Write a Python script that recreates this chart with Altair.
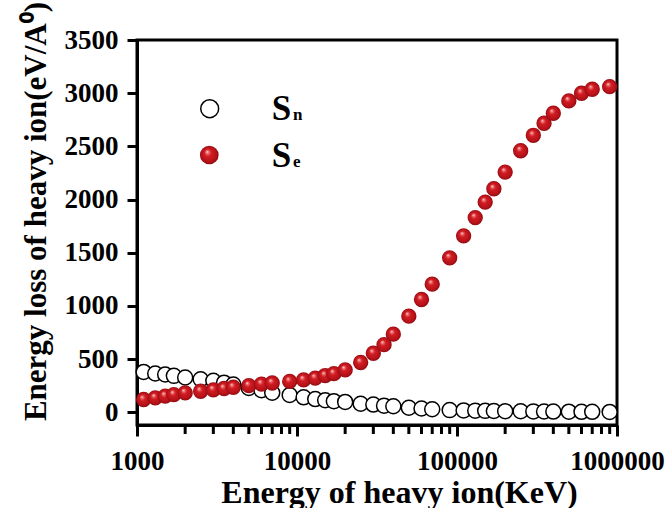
import altair as alt
import pandas as pd

# Ion energy (keV) and stopping powers (eV/Å)
energy_kev = [1100, 1300, 1500, 1700, 2000, 2500, 3000, 3500, 4000, 5000,
              6000, 7000, 9000, 11000, 13000, 15000, 17000, 20000, 25000, 30000,
              35000, 40000, 50000, 60000, 70000, 90000, 110000, 130000, 150000, 170000,
              200000, 250000, 300000, 350000, 400000, 500000, 600000, 700000, 900000]
sn_values = [379, 364, 355, 342, 327, 310, 295, 278, 261, 229,
             207, 183, 162, 140, 124, 113, 104, 97, 80, 72,
             62, 56, 42, 35, 28, 20, 17, 15, 13, 12,
             10, 9, 8, 7, 6, 5, 4, 4, 3]
se_values = [120, 135, 152, 166, 182, 197, 210, 223, 235, 250,
             265, 275, 290, 304, 321, 345, 363, 398, 468, 555,
             635, 734, 903, 1060, 1204, 1452, 1659, 1830, 1976, 2101,
             2258, 2459, 2604, 2717, 2811, 2927, 2999, 3037, 3061]

y_ticks = [0, 500, 1000, 1500, 2000, 2500, 3000, 3500]
x_major = [1000, 10000, 100000, 1000000]
x_minor = [m * 10 ** k for k in (3, 4, 5) for m in range(2, 10)]

legend_main = ["S", "S"]
legend_sub = ["n", "e"]

df = pd.DataFrame({"energy": energy_kev, "sn": sn_values, "se": se_values})
minor_df = pd.DataFrame({"energy": x_minor})
one = pd.DataFrame({"k": [0]})

FONT = "Liberation Serif"

x_scale = alt.Scale(type="log", domain=[1000, 1000000], nice=False)
y_scale = alt.Scale(domain=[-120, 3500], nice=False, zero=False)

y_axis = alt.Axis(
    values=y_ticks, format="d", title="Energy loss of heavy ion(eV/A⁰)",
    tickSize=10, tickWidth=3, domainWidth=3, labelPadding=9,
    labelFontSize=27, titleFontSize=31, titleX=-92, titleY=171,
    titleAngle=270, titleAlign="center", titleBaseline="alphabetic",
    grid=False,
)
x_axis = alt.Axis(
    values=x_major, format="d", title="Energy of heavy ion(KeV)",
    tickSize=11, tickWidth=3, domainWidth=3, labelPadding=33,
    labelBaseline="alphabetic", labelFontSize=27, labelFlush=False,
    labelOverlap=False, titleFontSize=32, titleX=262, titleY=77,
    titleAlign="center", titleBaseline="alphabetic", orient="bottom",
    grid=False,
)

# Shaded sphere fill for the electronic stopping points
sphere = alt.RadialGradient(
    gradient="radial",
    stops=[
        alt.GradientStop(color="#ffffff", offset=0),
        alt.GradientStop(color="#f07a7a", offset=0.14),
        alt.GradientStop(color="#d01c22", offset=0.38),
        alt.GradientStop(color="#b8121a", offset=0.8),
        alt.GradientStop(color="#8e0a10", offset=1),
    ],
    x1=0.38, y1=0.32, r1=0, x2=0.5, y2=0.5, r2=0.5,
)

x_enc = alt.X("energy:Q", scale=x_scale, axis=x_axis)

# Short minor ticks of the log axis, hanging below the bottom frame
minor_ticks = alt.Chart(minor_df).mark_rule(color="black", strokeWidth=3).encode(
    x=x_enc, y=alt.value(386), y2=alt.value(394),
)

sn_layer = alt.Chart(df).mark_point(
    shape="circle", filled=True, fill="white", stroke="black",
    strokeWidth=1.5, size=225, opacity=1,
).encode(
    x=x_enc,
    y=alt.Y("sn:Q", scale=y_scale, axis=y_axis),
)

se_layer = alt.Chart(df).mark_circle(fill=sphere, size=235, opacity=1).encode(
    x=x_enc,
    y=alt.Y("se:Q", scale=y_scale, axis=y_axis),
)

# Legend drawn inside the plot
leg_sn_sym = alt.Chart(one).mark_point(
    shape="circle", filled=True, fill="white", stroke="black",
    strokeWidth=1.5, size=320, opacity=1,
).encode(x=alt.value(72.7), y=alt.value(68.7))
leg_se_sym = alt.Chart(one).mark_circle(fill=sphere, size=350, opacity=1).encode(
    x=alt.value(72.3), y=alt.value(115)
)


def label(text, x, y, size):
    return alt.Chart(one).mark_text(
        text=text, font=FONT, fontWeight="bold", fontSize=size,
        align="left", baseline="alphabetic", color="black",
    ).encode(x=alt.value(x), y=alt.value(y))


leg_texts = [
    label(legend_main[0], 134.7, 80, 35),
    label(legend_sub[0], 156, 80, 17),
    label(legend_main[1], 134.7, 126.7, 35),
    label(legend_sub[1], 156, 127, 17),
]

chart = alt.layer(
    minor_ticks, sn_layer, se_layer, leg_sn_sym, leg_se_sym, *leg_texts
).properties(
    width=480, height=385,
    autosize=alt.AutoSizeParams(type="none"),
    padding={"left": 137, "top": 40, "right": 53, "bottom": 83},
    background="white",
).configure_axis(
    labelFont=FONT, titleFont=FONT, labelFontWeight="bold",
    titleFontWeight="bold", labelColor="black", titleColor="black",
    domainColor="black", tickColor="black",
).configure_view(stroke="black", strokeWidth=3)

chart.save("out.html", embed_options={"renderer": "svg", "actions": False})
